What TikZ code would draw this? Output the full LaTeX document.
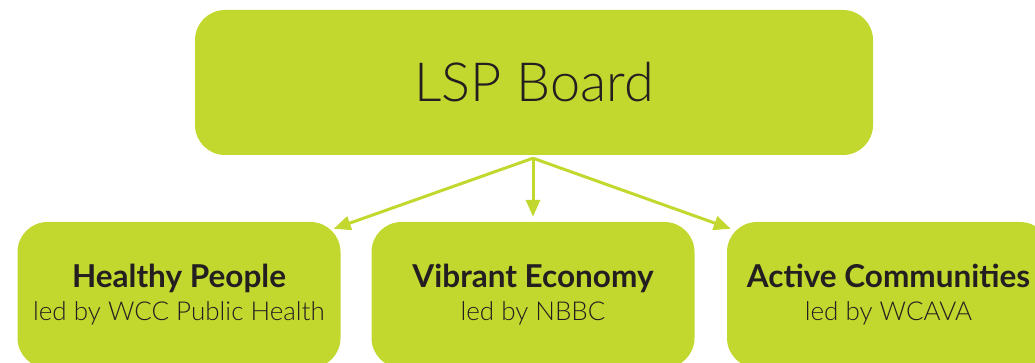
\documentclass[tikz,border=0pt]{standalone}
\usepackage{fontspec}
\setmainfont{Lato}
\newfontfamily\lightfont{Lato Light}
\usetikzlibrary{arrows.meta,calc}
\definecolor{lime}{RGB}{194,216,47}
\definecolor{ink}{RGB}{35,31,32}
\begin{document}
\begin{tikzpicture}[x=1pt,y=-1pt,
  box/.style={fill=lime, rounded corners=30pt, inner sep=0pt, align=center, text=ink},
  sub/.style={box, minimum width=323pt, minimum height=146pt, font=\lightfont\fontsize{26}{33}\selectfont},
  head/.style={font=\normalfont\bfseries\fontsize{31.5}{33}\selectfont},
  conn/.style={draw=lime, line width=3pt, -{Triangle[length=17pt,width=14pt]}}]
\useasboundingbox (0,0) rectangle (1035,363);
\clip (0,0) rectangle (1035,363);
\node[box, minimum width=678pt, minimum height=145pt, font=\lightfont\fontsize{54}{60}\selectfont] (lsp) at (534,82.5) {LSP Board};
\node[sub] (hp) at (179,295) {{\normalfont\bfseries\fontsize{31.5}{33}\selectfont Healthy People}\\led by WCC Public Health};
\node[sub] (ve) at (533,295) {{\normalfont\bfseries\fontsize{31.5}{33}\selectfont Vibrant Economy}\\led by NBBC};
\node[sub] (ac) at (888.5,295) {{\normalfont\bfseries\fontsize{31.5}{33}\selectfont Active Communities}\\led by WCAVA};
\coordinate (apex) at ($(lsp.south)+(-1,3)$);
\coordinate (hpend) at ($(hp.north east)+(-7,7)$);
\coordinate (veend) at ($(ve.north)+(0,-5)$);
\coordinate (acend) at ($(ac.north west)+(4,7)$);
\draw[conn] (apex) -- (hpend);
\draw[conn] (apex) -- (veend);
\draw[conn] (apex) -- (acend);
\end{tikzpicture}
\end{document}
